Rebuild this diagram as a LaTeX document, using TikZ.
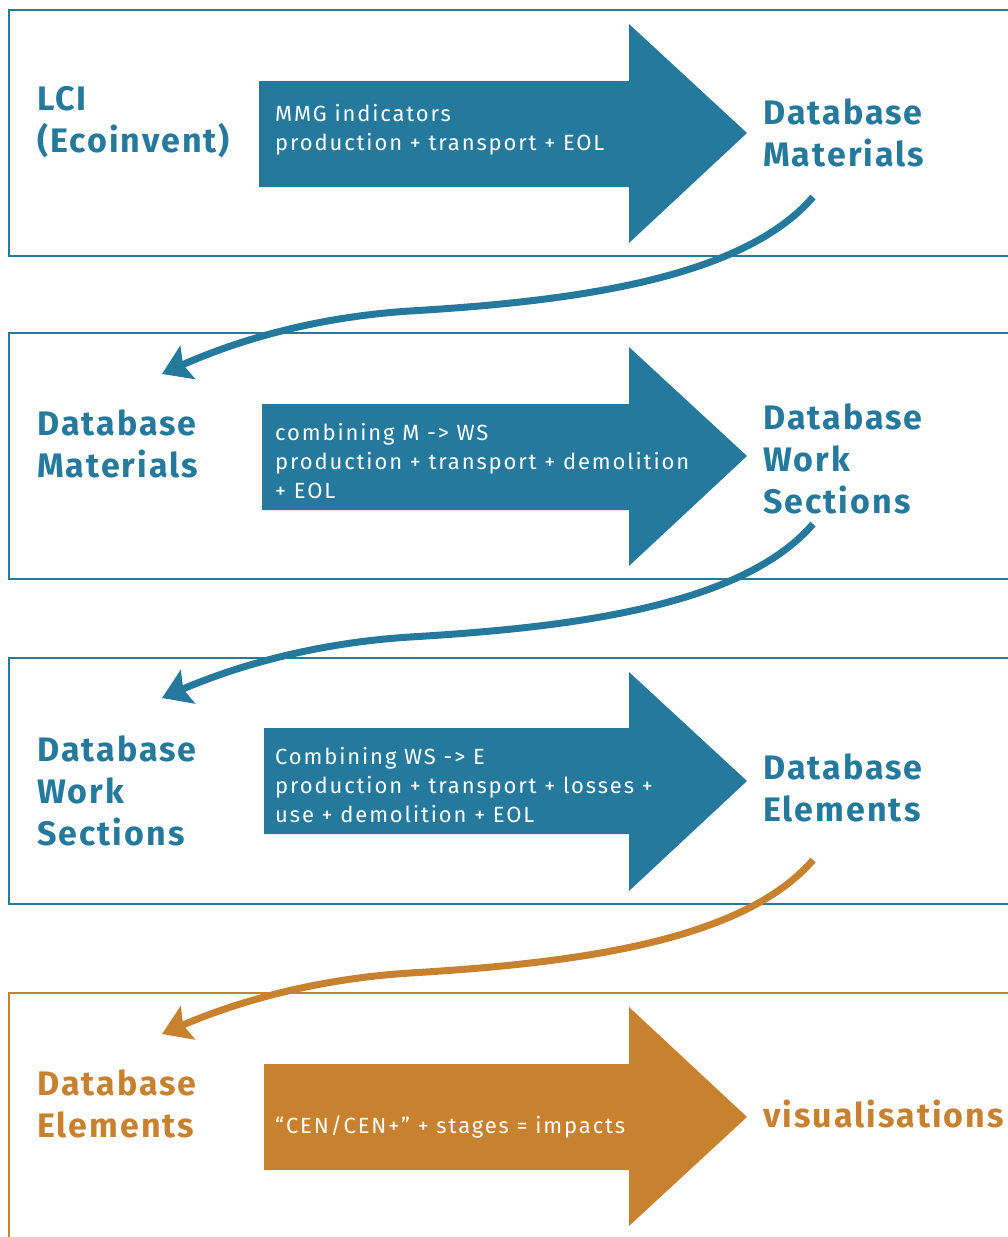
\documentclass[tikz,border=0pt]{standalone}
\usepackage{fontspec}
\setmainfont{Fira Sans}
\newfontfamily\headfont[LetterSpace=6]{Fira Sans}
\newfontfamily\bodyfont[LetterSpace=8.5]{Fira Sans}
\usetikzlibrary{arrows.meta}
\definecolor{fblue}{HTML}{24799C}
\definecolor{forange}{HTML}{C8812F}
\tikzset{
  frame/.style={line width=2.6pt},
  head/.style={font=\headfont\fontsize{34}{42}\selectfont\bfseries, anchor=base west, inner sep=0pt, align=left},
  inbody/.style={font=\bodyfont\fontsize{22}{29}\selectfont, text=white, anchor=base west, inner sep=0pt, align=left},
  link/.style={line width=7pt, -{Stealth[length=28pt,width=36pt,inset=5pt]}},
}
\begin{document}
\begin{tikzpicture}[x=1pt,y=-1pt]
\useasboundingbox (0,0) rectangle (1008,1237);
% frames
\draw[frame,fblue] (1020,10) -- (9,10) -- (9,256) -- (1020,256);
\draw[frame,fblue] (1020,333) -- (9,333) -- (9,579) -- (1020,579);
\draw[frame,fblue] (1020,658) -- (9,658) -- (9,904) -- (1020,904);
\draw[frame,forange] (1020,993) -- (9,993) -- (9,1250);
% big arrows
\fill[fblue] (259,81) -- (629,81) -- (629,24) -- (747,133) -- (629,243) -- (629,187) -- (259,187) -- cycle;
\fill[fblue] (262,404) -- (629,404) -- (629,347) -- (747,456) -- (629,566) -- (629,510) -- (262,510) -- cycle;
\fill[fblue] (264,728) -- (629,728) -- (629,672) -- (747,781) -- (629,891) -- (629,834) -- (264,834) -- cycle;
\fill[forange] (264,1064) -- (629,1064) -- (629,1007) -- (747,1117) -- (629,1226) -- (629,1170) -- (264,1170) -- cycle;
% row 1 (positions are the baseline of the last line)
\node[head,text=fblue] (l1) at (37,152) {LCI\\(Ecoinvent)};
\node[inbody] (a1) at (275,150) {MMG indicators\\production + transport + EOL};
\node[head,text=fblue] (r1) at (763,166) {Database\\Materials};
% row 2
\node[head,text=fblue] (l2) at (37,477) {Database\\Materials};
\node[inbody] (a2) at (275,498) {combining M -> WS\\production + transport + demolition\\+ EOL};
\node[head,text=fblue] (r2) at (763,513) {Database\\Work\\Sections};
% row 3
\node[head,text=fblue] (l3) at (37,845) {Database\\Work\\Sections};
\node[inbody] (a3) at (275,822) {Combining WS -> E\\production + transport + losses +\\use + demolition + EOL};
\node[head,text=fblue] (r3) at (763,821) {Database\\Elements};
% row 4
\node[head,text=forange] (l4) at (37,1137) {Database\\Elements};
\node[inbody] (a4) at (275,1133) {“CEN/CEN+” + stages = impacts};
\node[head,text=forange] (r4) at (763,1127) {visualisations};
% connectors
\coordinate (s1) at (813,197); \coordinate (e1) at (162,374);
\coordinate (s2) at (813,524); \coordinate (e2) at (162,698);
\coordinate (s3) at (813,860); \coordinate (e3) at (162,1034);
\draw[link,fblue] (s1) .. controls (740,282) and (560,302) .. (410,311) .. controls (300,318) and (220,348) .. (e1);
\draw[link,fblue] (s2) .. controls (740,609) and (560,628) .. (410,637) .. controls (300,644) and (220,673) .. (e2);
\draw[link,forange] (s3) .. controls (740,945) and (560,964) .. (410,973) .. controls (300,980) and (220,1009) .. (e3);
\end{tikzpicture}
\end{document}
